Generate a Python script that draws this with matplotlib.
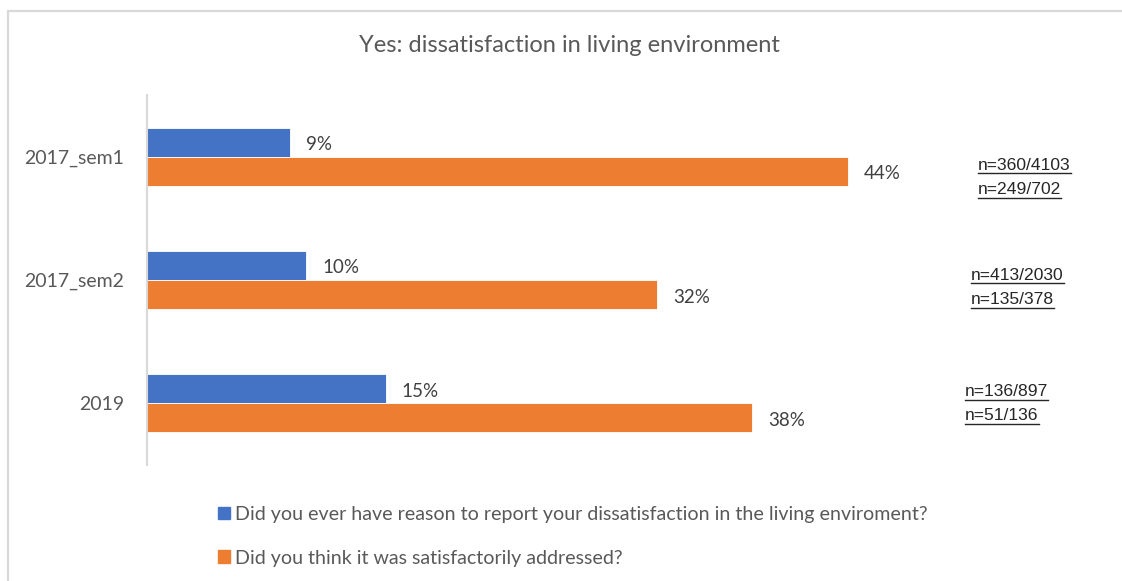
import matplotlib.pyplot as plt
from matplotlib.patches import Patch, Rectangle
from matplotlib.lines import Line2D
import numpy as np

categories = ['2017_sem1', '2017_sem2', '2019']
reported = [9, 10, 15]
addressed = [44, 32, 38]
n_reported = ['n=360/4103', 'n=413/2030', 'n=136/897']
n_addressed = ['n=249/702', 'n=135/378', 'n=51/136']

title = 'Yes: dissatisfaction in living environment'
legend_labels = ['Did you ever have reason to report your dissatisfaction in the living enviroment?',
                 'Did you think it was satisfactorily addressed?']

blue = '#4472C4'
orange = '#ED7D31'
grey_text = '#595959'

W, H = 1122, 581
fig = plt.figure(figsize=(W / 100, H / 100), dpi=100)

# light frame around the chart area
fig.patches.append(Rectangle((8 / W, -0.05), 1.2, 1 - 11 / H + 0.05, transform=fig.transFigure,
                             fill=False, edgecolor='#d9d9d9', linewidth=1.6))

ax = fig.add_axes([147 / W, (H - 465) / H, 956 / W, 370 / H])
y = np.arange(len(categories))
h = 0.236
ax.barh(y - h / 2, reported, height=h, color=blue, edgecolor='white', linewidth=0.6)
ax.barh(y + h / 2, addressed, height=h, color=orange, edgecolor='white', linewidth=0.6)

ax.set_xlim(0, 60)
ax.set_ylim(len(categories) - 0.5, -0.5)
ax.set_yticks(y)
ax.set_yticklabels(categories, fontsize=14, color=grey_text, family='Lato')
ax.tick_params(axis='y', length=0, pad=16.5)
ax.set_xticks([])
for s in ['top', 'right', 'bottom']:
    ax.spines[s].set_visible(False)
ax.spines['left'].set_color('#d9d9d9')
ax.spines['left'].set_linewidth(1.5)

for i in range(len(categories)):
    ax.text(reported[i] + 1.0, i - h / 2 + 0.02, f'{reported[i]}%', va='center', ha='left',
            fontsize=13.5, color='#404040', family='Lato')
    ax.text(addressed[i] + 1.0, i + h / 2 + 0.02, f'{addressed[i]}%', va='center', ha='left',
            fontsize=13.5, color='#404040', family='Lato')

fig.text(569 / W, 1 - 46 / H, title, ha='center', va='center', fontsize=17,
         color=grey_text, family='Lato')

# sample sizes to the right, underlined
n_x = [978, 971, 965]
n_y = [[165, 190], [275, 300], [392, 416]]
n_texts = []
for i in range(len(categories)):
    for j, label in enumerate([n_reported[i], n_addressed[i]]):
        t = fig.text(n_x[i] / W, 1 - n_y[i][j] / H, label, ha='left', va='center',
                     fontsize=12.6, color='#262626', family='Liberation Sans')
        n_texts.append(t)

leg = fig.legend(handles=[Patch(color=blue), Patch(color=orange)], labels=legend_labels,
                 loc='upper left', bbox_to_anchor=(218 / W, 1 - 506 / H), frameon=False,
                 borderpad=0, borderaxespad=0,
                 handlelength=0.62, handleheight=0.62, handletextpad=0.26, labelspacing=1.36,
                 prop={'family': 'Lato', 'size': 14.1})
for t in leg.get_texts():
    t.set_color(grey_text)

fig.canvas.draw()
r = fig.canvas.get_renderer()
for t in n_texts:
    bb = t.get_window_extent(r)
    yy = bb.y0 - 0.5
    fig.add_artist(Line2D([bb.x0 / W, bb.x1 / W], [yy / H, yy / H], transform=fig.transFigure,
                          color='#262626', linewidth=1.0))

fig.savefig('out.png', dpi=100)
